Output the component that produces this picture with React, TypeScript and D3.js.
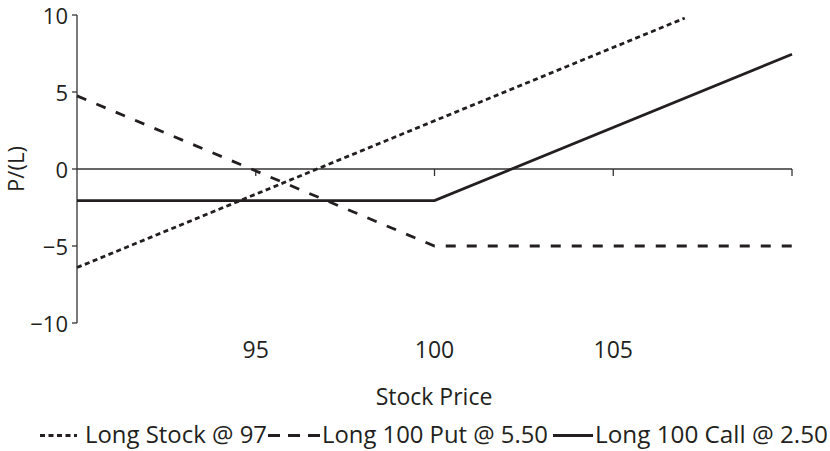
import React from "react";
import * as d3 from "d3";

const stockPrices = [90, 107];
const stockPL = [-6.4, 9.8];
const putPrices = [90, 100, 110];
const putPL = [4.75, -5, -5];
const callPrices = [90, 100, 110];
const callPL = [-2.05, -2.05, 7.45];

const xTicks = [95, 100, 105, 110];
const xTickLabels = ["95", "100", "105", ""];
const yTicks = [10, 5, 0, -5, -10];
const yTickLabels = ["10", "5", "0", "\u22125", "\u221210"];

const seriesNames = ["Long Stock @ 97", "Long 100 Put @ 5.50", "Long 100 Call @ 2.50"];

const W = 830;
const H = 451;
const FONT = "'Open Sans', 'Noto Sans', sans-serif";
const INK = "#231f20";
const FS = 23;
const FSY = 22;

export default function App() {
  const x = d3.scaleLinear().domain([90, 110]).range([77, 792]);
  const y = d3.scaleLinear().domain([-10, 10]).range([323, 15]);
  const line = d3
    .line<[number, number]>()
    .x((d) => x(d[0]))
    .y((d) => y(d[1]));

  const zip = (a: number[], b: number[]) => a.map((v, i) => [v, b[i]] as [number, number]);

  const series = [
    { pts: zip(stockPrices, stockPL), dash: "5,3.5" },
    { pts: zip(putPrices, putPL), dash: "10,11" },
    { pts: zip(callPrices, callPL), dash: "none" },
  ];

  const legendY = 435.5;
  const legend = [
    { x1: 40, x2: 77, tx: 85, w: 182, dash: "5,3.5" },
    { x1: 268, x2: 321, tx: 322, w: 226, dash: "12,8" },
    { x1: 553, x2: 593, tx: 595, w: 233, dash: "none" },
  ];

  return (
    <svg
      width={W}
      height={H}
      style={{ position: "absolute", left: 0, top: 0, background: "#fff" }}
      fontFamily={FONT}
    >
      {/* y axis */}
      <line x1={x(90)} x2={x(90)} y1={y(10)} y2={y(-10)} stroke="#333" strokeWidth={1.3} />
      {yTicks.map((t, i) => (
        <g key={"yt" + t}>
          <line x1={x(90) - 5} x2={x(90)} y1={y(t)} y2={y(t)} stroke="#333" strokeWidth={1.3} />
          <text x={68} y={y(t)} dy="0.4em" textAnchor="end" fontSize={FSY} fill={INK}>
            {yTickLabels[i]}
          </text>
        </g>
      ))}
      {/* x axis at zero */}
      <line x1={x(90)} x2={x(110)} y1={y(0)} y2={y(0)} stroke="#333" strokeWidth={1.3} />
      {xTicks.map((t, i) => (
        <g key={"xt" + t}>
          <line x1={x(t)} x2={x(t)} y1={y(0)} y2={y(0) + 7} stroke="#333" strokeWidth={1.3} />
          <text x={x(t)} y={358} textAnchor="middle" fontSize={FS} fill={INK}>
            {xTickLabels[i]}
          </text>
        </g>
      ))}
      <text x={434} y={405} textAnchor="middle" fontSize={FS} fill={INK}>
        Stock Price
      </text>
      <text
        transform={`translate(24, ${y(0)}) rotate(-90)`}
        textAnchor="middle"
        fontSize={FSY}
        fill={INK}
      >
        P/(L)
      </text>

      {series.map((s, i) => (
        <path
          key={"s" + i}
          d={line(s.pts) || ""}
          fill="none"
          stroke={INK}
          strokeWidth={2.8}
          strokeDasharray={s.dash}
        />
      ))}

      {legend.map((l, i) => (
        <g key={"lg" + i}>
          <line
            x1={l.x1}
            x2={l.x2}
            y1={legendY}
            y2={legendY}
            stroke={INK}
            strokeWidth={2.8}
            strokeDasharray={l.dash}
          />
          <text
            x={l.tx}
            y={443}
            fontSize={FS}
            fill={INK}
            textLength={l.w}
            lengthAdjust="spacingAndGlyphs"
          >
            {seriesNames[i]}
          </text>
        </g>
      ))}
    </svg>
  );
}
